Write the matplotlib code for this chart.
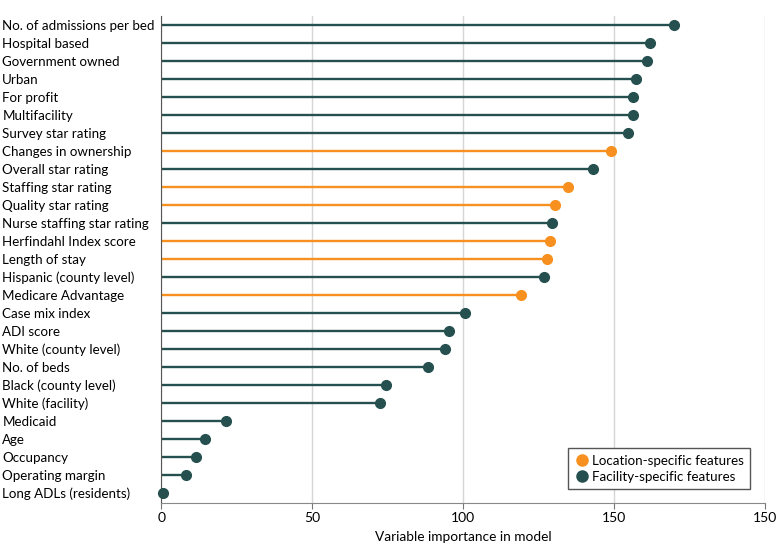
import matplotlib
matplotlib.use('Agg')
import matplotlib.pyplot as plt
from matplotlib.lines import Line2D

# features, top to bottom
features = [
    'No. of admissions per bed', 'Hospital based', 'Government owned', 'Urban',
    'For profit', 'Multifacility', 'Survey star rating', 'Changes in ownership',
    'Overall star rating', 'Staffing star rating', 'Quality star rating',
    'Nurse staffing star rating', 'Herfindahl Index score', 'Length of stay',
    'Hispanic (county level)', 'Medicare Advantage', 'Case mix index', 'ADI score',
    'White (county level)', 'No. of beds', 'Black (county level)', 'White (facility)',
    'Medicaid', 'Age', 'Occupancy', 'Operating margin', 'Long ADLs (residents)',
]
importance = [170.0, 162.0, 161.0, 157.4, 156.4, 156.4, 154.6, 149.2,
              143.2, 134.7, 130.4, 129.5, 128.9, 127.8, 126.7, 119.2,
              100.8, 95.3, 94.1, 88.5, 74.4, 72.4, 21.4, 14.5, 11.5, 8.2, 0.7]
# L = location-specific, F = facility-specific
group = ['F', 'F', 'F', 'F', 'F', 'F', 'F', 'L', 'F', 'L', 'L', 'F', 'L', 'L',
         'F', 'L', 'F', 'F', 'F', 'F', 'F', 'F', 'F', 'F', 'F', 'F', 'F']

xticks = [0, 50, 100, 150, 200]
xticklabels = ['0', '50', '100', '150', '150']

ORANGE = '#F7901E'
TEAL = '#25504F'
colors = {'L': ORANGE, 'F': TEAL}

plt.rcParams['font.family'] = ['Lato', 'DejaVu Sans']
FS = 9.6

fig = plt.figure(figsize=(7.8, 5.53), dpi=100)
ax = fig.add_axes([161.3 / 780, 1 - 503.3 / 553, (764.7 - 161.3) / 780, (503.3 - 16) / 553])

n = len(features)
ypos = list(range(n))
for y, v, g in zip(ypos, importance, group):
    c = colors[g]
    ax.plot([0, v], [y, y], color=c, lw=1.7, solid_capstyle='butt', zorder=2)
    ax.plot(v, y, 'o', color=c, ms=7, zorder=3, clip_on=False)

ax.set_xlim(0, 200)
ax.set_ylim(n - 1 + 0.59, -0.48)
ax.set_xticks(xticks)
ax.set_xticklabels(xticklabels, fontsize=FS + 0.4)
ax.set_yticks(ypos)
ax.set_yticklabels(features, fontsize=FS, ha='left')
ax.tick_params(axis='y', length=0, pad=114.5)
ax.tick_params(axis='x', length=4, color='#777777', pad=2)
ax.grid(axis='x', color='#d6d6d6', lw=1)
ax.set_axisbelow(True)
for s in ['top', 'right']:
    ax.spines[s].set_visible(False)
ax.spines['left'].set_color('#555555')
ax.spines['bottom'].set_color('#888888')
ax.set_xlabel('Variable importance in model', fontsize=FS + 0.2, labelpad=5)

handles = [
    Line2D([], [], marker='o', ls='', color=ORANGE, ms=8, label='Location-specific features'),
    Line2D([], [], marker='o', ls='', color=TEAL, ms=8, label='Facility-specific features'),
]
leg = ax.legend(handles=handles, loc='lower right', bbox_to_anchor=(0.976, 0.029),
                borderaxespad=0, fontsize=FS, fancybox=False, framealpha=1,
                edgecolor='#555555', handletextpad=0.1, handlelength=1.2,
                borderpad=0.5, labelspacing=0.3)
leg.get_frame().set_linewidth(1)

fig.savefig('out.png', dpi=100)
